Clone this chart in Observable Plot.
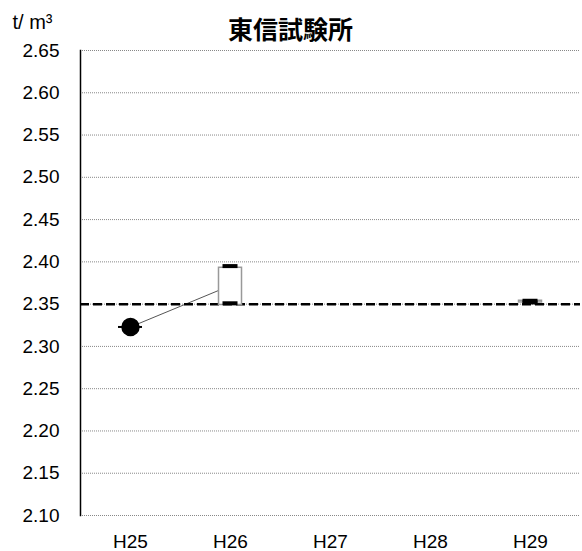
<!DOCTYPE html>
<html>
<head>
<meta charset="utf-8">
<script src="https://cdn.jsdelivr.net/npm/d3@7"></script>
<script src="https://cdn.jsdelivr.net/npm/@observablehq/plot@0.6"></script>
<style>
  html, body { margin: 0; padding: 0; background: #fff; }
</style>
</head>
<body>
<div id="chart"></div>
<script>
const title = "東信試験所";
const unitLabel = "t/ m³";
const years = ["H25", "H26", "H27", "H28", "H29"];
const yTicks = [2.10, 2.15, 2.20, 2.25, 2.30, 2.35, 2.40, 2.45, 2.50, 2.55, 2.60, 2.65];
const standardValue = 2.35;

// mean values (line + dot)
const meanYears = ["H25", "H26"];
const meanValues = [2.323, 2.372];

// box (range) per year
const boxYears = ["H25", "H26", "H29"];
const boxLow = [2.323, 2.349, 2.352];
const boxHigh = [2.323, 2.393, 2.354];
const maxValues = [2.323, 2.395, 2.354];
const minValues = [2.323, 2.351, 2.352];

const means = meanYears.map((x, i) => ({x, y: meanValues[i]}));
const boxes = boxYears.map((x, i) => ({x, lo: boxLow[i], hi: boxHigh[i], max: maxValues[i], min: minValues[i]}));
const dotData = [means[0]];

const chart = Plot.plot({
  width: 582,
  height: 551,
  marginTop: 50,
  marginBottom: 36,
  marginLeft: 80,
  marginRight: 2,
  style: {fontFamily: "'Liberation Sans', 'Noto Sans CJK JP', sans-serif", fontSize: "19px", color: "#000", background: "#fff"},
  x: {type: "band", domain: years, padding: 0, label: null},
  y: {domain: [2.10, 2.65], label: null},
  marks: [
    Plot.gridY(yTicks, {stroke: "#888", strokeOpacity: 1, strokeDasharray: "1,1", strokeWidth: 1}),
    Plot.frame({anchor: "left", stroke: "#000", strokeWidth: 1.5}),
    Plot.axisY({ticks: yTicks, tickFormat: d => d.toFixed(2), tickSize: 0, tickPadding: 21, fontSize: 19, label: null}),
    Plot.axisX({tickSize: 0, tickPadding: 18.5, fontSize: 19, label: null}),
    Plot.line(means, {x: "x", y: "y", stroke: "#555", strokeWidth: 1}),
    Plot.ruleY([standardValue], {stroke: "#000", strokeWidth: 2.5, strokeDasharray: "9,4"}),
    Plot.barY(boxes.filter(d => d.hi > d.lo), {x: "x", y1: "lo", y2: "hi", fill: "#fff", stroke: "#999", strokeWidth: 1.5, insetLeft: 38.5, insetRight: 38.5}),
    Plot.tickY(boxes.filter(d => d.hi > d.lo), {x: "x", y: "max", stroke: "#000", strokeWidth: 4, insetLeft: 42.5, insetRight: 42.5}),
    Plot.tickY(boxes.filter(d => d.hi > d.lo), {x: "x", y: "min", stroke: "#000", strokeWidth: 4, insetLeft: 42.5, insetRight: 42.5}),
    Plot.tickY(boxes.filter(d => d.hi === d.lo), {x: "x", y: "max", stroke: "#000", strokeWidth: 2, insetLeft: 38, insetRight: 38}),
    Plot.dot(dotData, {x: "x", y: "y", r: 8.5, fill: "#000", stroke: "#000"}),
    Plot.text([title], {frameAnchor: "top-left", dx: 210, dy: -12, lineAnchor: "bottom", textAnchor: "middle", fontSize: 25, fontWeight: "bold", fontFamily: "'Noto Sans CJK JP', sans-serif", fill: "#000"}),
    Plot.text([unitLabel], {frameAnchor: "top-left", dx: -68, dy: -22, lineAnchor: "bottom", textAnchor: "start", fontSize: 20, fill: "#000"})
  ]
});
document.getElementById("chart").appendChild(chart);
</script>
</body>
</html>
